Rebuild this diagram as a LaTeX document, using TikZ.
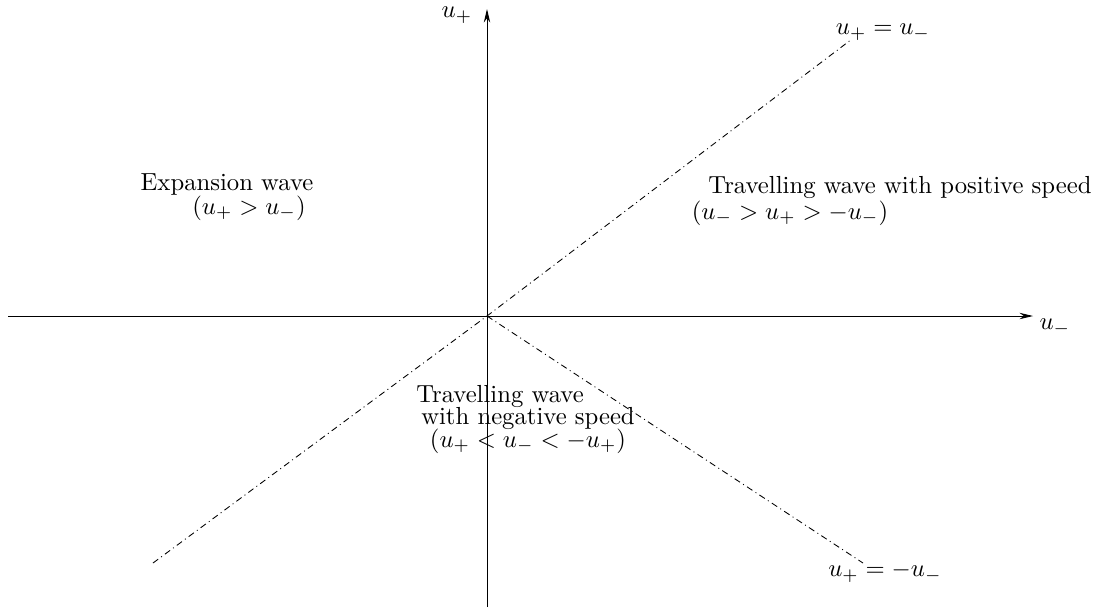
\documentclass[tikz,border=0pt]{standalone}
\usepackage{amsmath}
\usepackage{tikz}
\usetikzlibrary{arrows.meta, positioning}

\tikzset{
	axisline/.style={line width=0.35pt, -{Stealth[length=5.5pt,width=2.6pt,inset=1.8pt]}},
	dashdotline/.style={line width=0.35pt, dash pattern=on 2.6pt off 1.5pt on 0.4pt off 1.5pt},
	lbl/.style={inner sep=0pt, font=\normalsize}
}

\begin{document}
\begin{tikzpicture}[x=0.405pt,y=-0.405pt]
	\useasboundingbox (0,0) rectangle (1104,610);
	% axes
	\coordinate (O) at (487,316);
	\coordinate (xstart) at (8,316);
	\coordinate (xend) at (1033,316);
	\coordinate (ybot) at (487,607);
	\coordinate (ytop) at (487,9);
	\draw[axisline] (xstart) -- (xend);
	\draw[axisline] (ybot) -- (ytop);
	\node[lbl] (ulabel) at (1055,327) {$u_-$};
	\node[lbl] (vlabel) at (457,15) {$u_+$};
	% the two lines
	\coordinate (diagLow) at (153,563);
	\coordinate (diagHigh) at (852,39);
	\coordinate (antiEnd) at (863,563);
	\draw[dashdotline] (diagLow) -- (O) -- (diagHigh);
	\draw[dashdotline] (O) -- (antiEnd);
	\node[lbl] (diaglabel) at (883,32) {$u_+=u_-$};
	\node[lbl] (antilabel) at (885,572) {$u_+=-u_-$};
	% regions
	\node[lbl] (expand) at (227,184) {Expansion wave};
	\node[lbl] (expandc) at (249,208) {$(u_+>u_-)$};
	\node[lbl] (pos) at (900,187) {Travelling wave with positive speed};
	\node[lbl] (posc) at (790,213) {$(u_->u_+>-u_-)$};
	\node[lbl] (neg) at (500,396) {Travelling wave};
	\node[lbl] (neg2) at (528,418) {with negative speed};
	\node[lbl] (negc) at (528,441) {$(u_+<u_-<-u_+)$};
\end{tikzpicture}
\end{document}
